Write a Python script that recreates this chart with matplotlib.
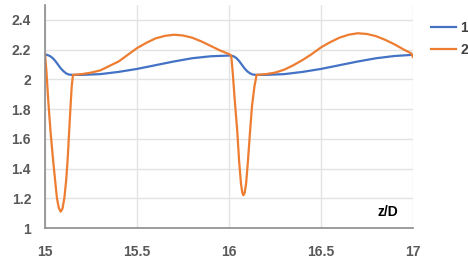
import matplotlib.pyplot as plt
import matplotlib as mpl

mpl.rcParams["font.family"] = ["Liberation Sans", "DejaVu Sans"]

# series 1 (blue)
z1 = [15.0, 15.01, 15.025, 15.04, 15.055, 15.07, 15.085, 15.10, 15.115, 15.13,
      15.15, 15.2, 15.3, 15.4, 15.5, 15.6, 15.7, 15.8, 15.9, 16.0,
      16.01, 16.025, 16.04, 16.055, 16.07, 16.085, 16.10, 16.115, 16.13,
      16.15, 16.2, 16.3, 16.4, 16.5, 16.6, 16.7, 16.8, 16.9, 17.0]
v1 = [2.165, 2.165, 2.158, 2.145, 2.125, 2.10, 2.075, 2.055, 2.04, 2.032,
      2.03, 2.03, 2.035, 2.05, 2.07, 2.095, 2.12, 2.142, 2.155, 2.16,
      2.16, 2.155, 2.143, 2.123, 2.098, 2.073, 2.053, 2.04, 2.032,
      2.03, 2.03, 2.035, 2.05, 2.07, 2.095, 2.12, 2.142, 2.157, 2.165]

# series 2 (orange)
z2 = [15.0, 15.008, 15.018, 15.03, 15.043, 15.055, 15.065, 15.075, 15.085,
      15.095, 15.105, 15.115, 15.123, 15.13, 15.138, 15.145, 15.152,
      15.2, 15.25, 15.3, 15.35, 15.4, 15.45, 15.5, 15.55, 15.6, 15.65, 15.7,
      15.75, 15.8, 15.85, 15.9, 15.95, 16.0,
      16.012, 16.02, 16.03, 16.045, 16.055, 16.065, 16.072, 16.078, 16.085,
      16.093, 16.103, 16.115, 16.125, 16.138, 16.15,
      16.2, 16.25, 16.3, 16.35, 16.4, 16.45, 16.5, 16.55, 16.6, 16.65, 16.7,
      16.75, 16.8, 16.85, 16.9, 16.95, 16.99, 17.0]
v2 = [2.17, 2.05, 1.85, 1.65, 1.47, 1.32, 1.20, 1.135, 1.11,
      1.13, 1.20, 1.32, 1.46, 1.62, 1.80, 1.95, 2.03,
      2.035, 2.045, 2.06, 2.09, 2.12, 2.165, 2.21, 2.245, 2.275, 2.292, 2.30,
      2.295, 2.28, 2.255, 2.225, 2.195, 2.17,
      2.16, 2.05, 1.88, 1.65, 1.45, 1.30, 1.24, 1.22, 1.235,
      1.30, 1.45, 1.66, 1.82, 1.95, 2.03,
      2.035, 2.045, 2.065, 2.095, 2.13, 2.17, 2.215, 2.25, 2.28, 2.30, 2.31,
      2.305, 2.29, 2.265, 2.235, 2.20, 2.175, 2.15]

labels = ["1", "2"]
xticks = [15, 15.5, 16, 16.5, 17]
xticklabels = ["15", "15.5", "16", "16.5", "17"]
yticks = [1, 1.2, 1.4, 1.6, 1.8, 2, 2.2, 2.4]
yticklabels = ["1", "1.2", "1.4", "1.6", "1.8", "2", "2.2", "2.4"]

fig = plt.figure(figsize=(4.68, 2.59), dpi=100)
ax = fig.add_axes([45 / 468, 1 - 228 / 259, 368 / 468, 223 / 259])

l1, = ax.plot(z1, v1, color="#4472c4", lw=1.6)
l2, = ax.plot(z2, v2, color="#ed7d31", lw=1.6)

ax.set_xlim(15, 17)
ax.set_ylim(1, 2.5)
ax.set_xticks(xticks)
ax.set_xticklabels(xticklabels)
ax.set_yticks(yticks)
ax.set_yticklabels(yticklabels)
ax.tick_params(length=0, labelsize=10, labelcolor="#595959")
ax.tick_params(axis="y", pad=10)
ax.tick_params(axis="x", pad=12)
for lab in ax.get_xticklabels() + ax.get_yticklabels():
    lab.set_fontweight("bold")

ax.grid(True, color="#e3e3e3", lw=1)
ax.set_axisbelow(True)
for s in ["top", "right"]:
    ax.spines[s].set_visible(False)
for s in ["left", "bottom"]:
    ax.spines[s].set_color("#8c8c8c")
    ax.spines[s].set_linewidth(1.2)

ax.text(16.864, 1.108, "z/D", fontsize=10, fontweight="bold", color="black",
        ha="center", va="center")

fig.legend([l1, l2], labels, loc="upper left",
           bbox_to_anchor=(431 / 468, 1 - 21 / 259), frameon=False,
           borderpad=0, borderaxespad=0, handlelength=1.8, handletextpad=0.3,
           labelspacing=0.6, prop={"size": 10, "weight": "bold"},
           labelcolor="#404040")

fig.savefig("out.png", dpi=100)
